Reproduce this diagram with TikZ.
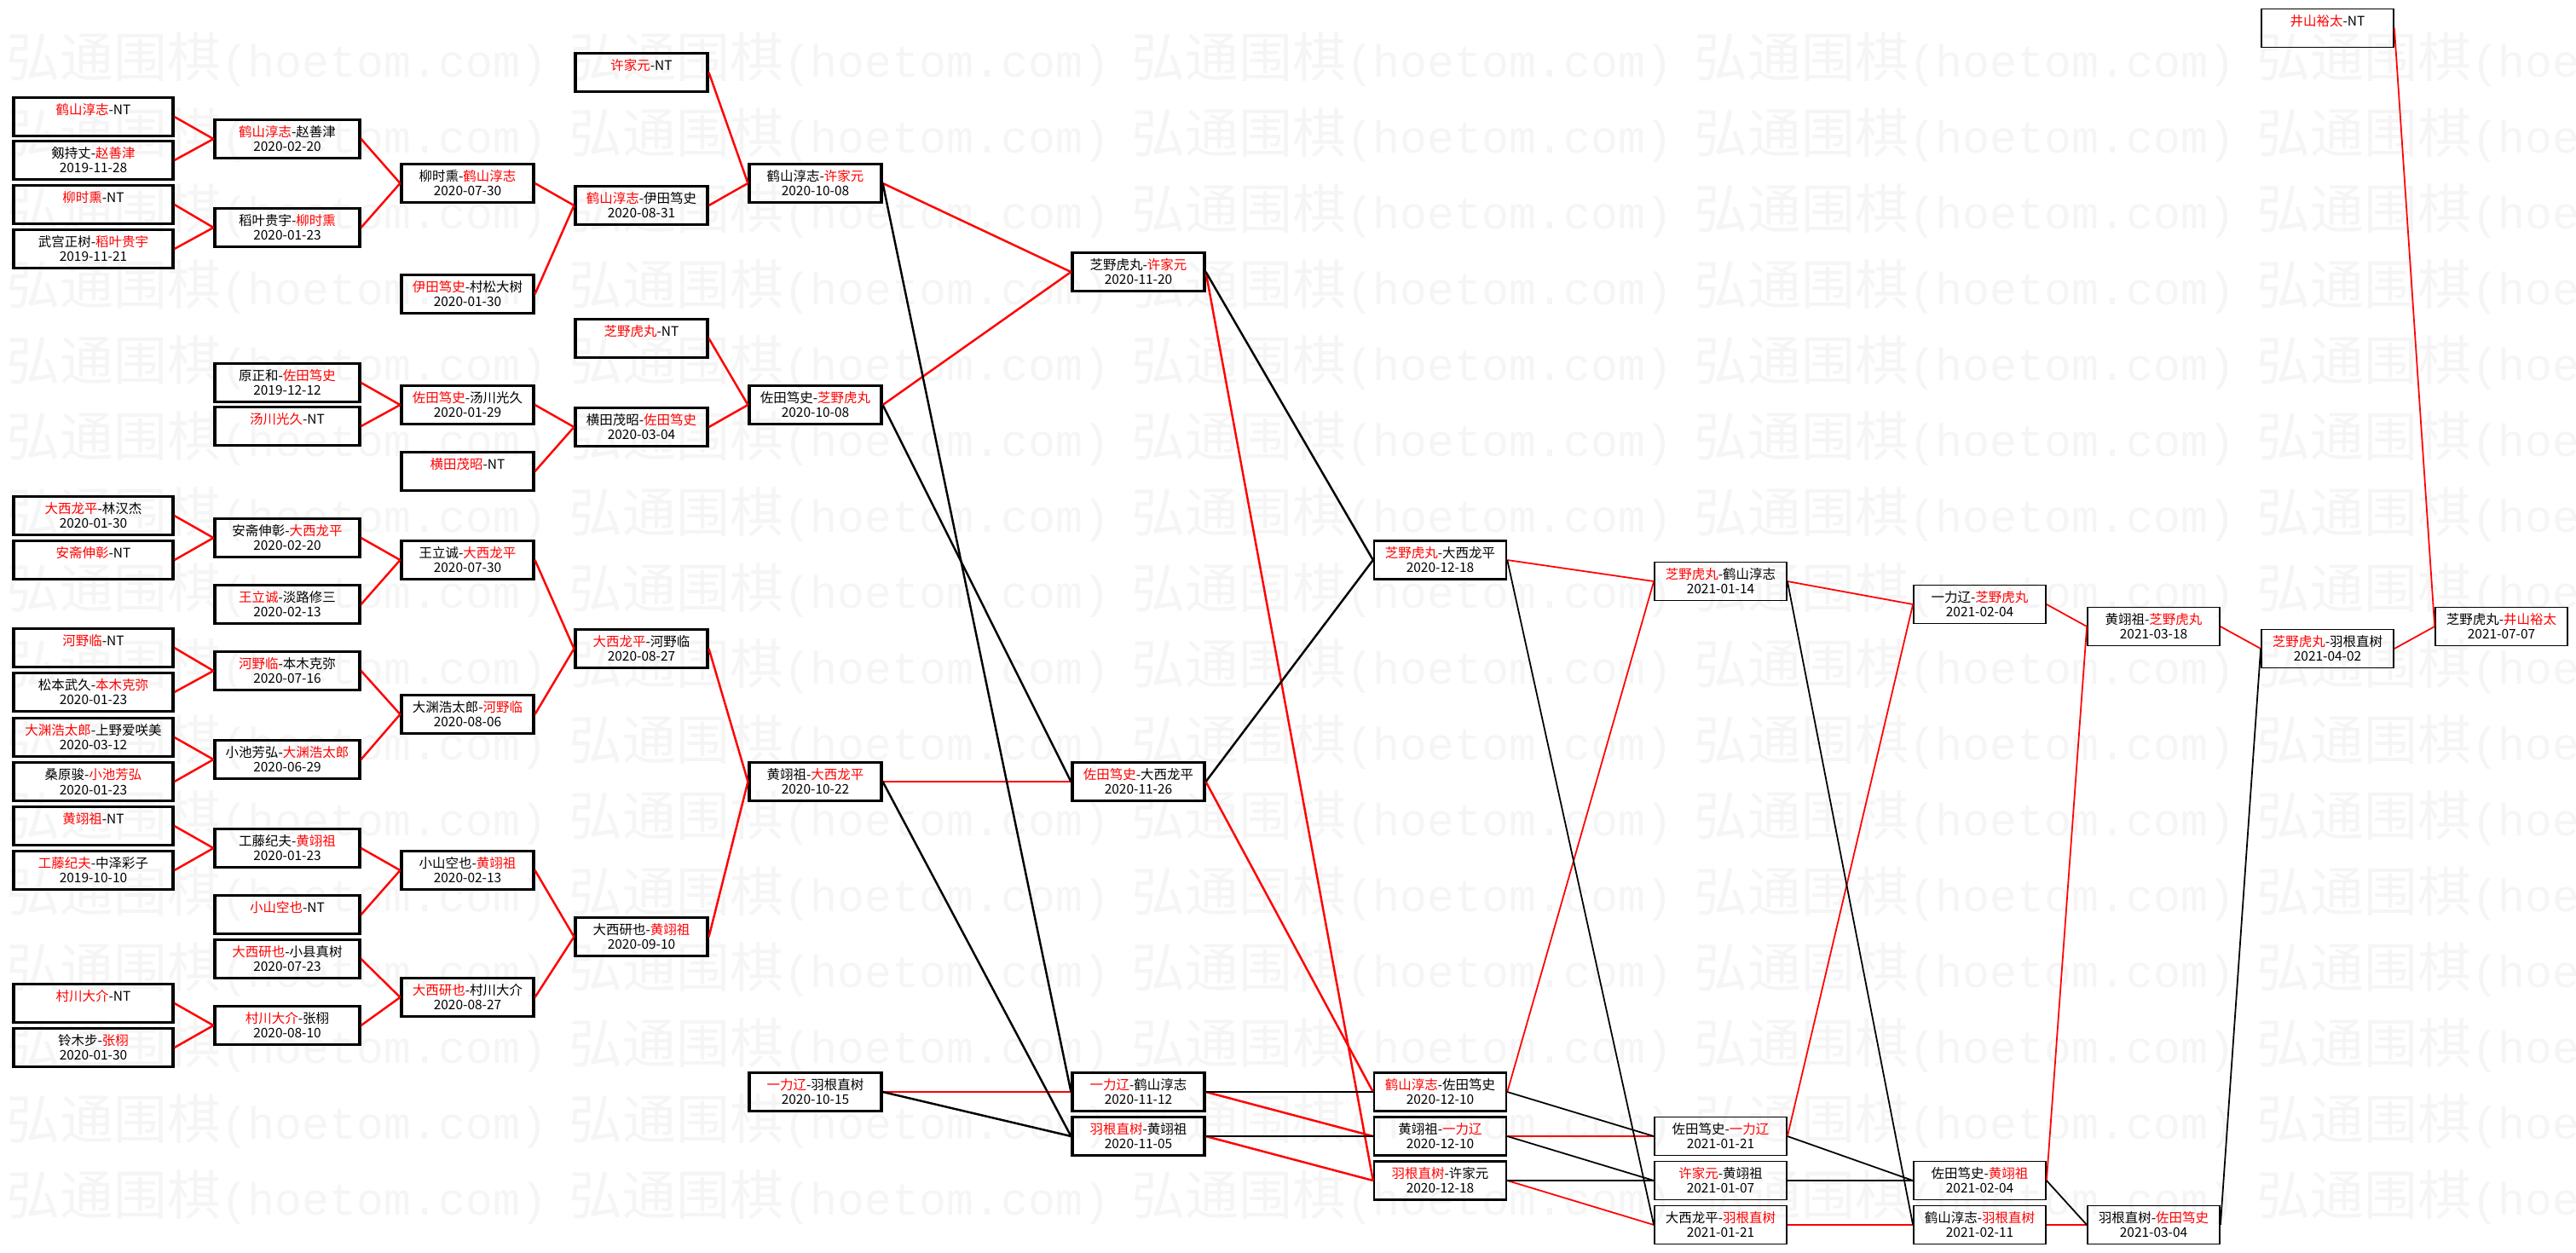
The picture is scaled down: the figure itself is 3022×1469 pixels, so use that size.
\documentclass[tikz,border=0pt]{standalone}
\usepackage{fontspec}
\setmainfont{Noto Sans CJK SC}
\newfontfamily\wzmono{Liberation Mono}
\newcommand{\gw}[1]{\textcolor{red}{#1}}

\begin{document}
\begin{tikzpicture}[x=0.2mm, y=-0.2mm,
	spiel/.style={draw, line width=1.8pt, inner sep=0pt, minimum width=31mm, minimum height=9mm,
		align=center, font=\fontsize{8.8}{9.7}\selectfont},
	spielm/.style={spiel, line width=1.4pt},
	spielr/.style={spiel, line width=1pt},
	sieg/.style={red, line width=1.4pt},
	nieder/.style={black, line width=1.4pt},
	wz/.style={anchor=west, inner sep=0pt, text=black!4}]
\useasboundingbox (0,0) rectangle (3022,1469);

	%% Wasserzeichen
\begin{scope}
	\clip (0,0) rectangle (3022,1469);
	\foreach \r in {0,...,15}
		\foreach \c in {0,...,4}
			\node[wz] (wz\r-\c) at ({7+660*\c},{70+89*\r})
				{\fontsize{35.8}{36}\selectfont 弘通围棋\wzmono\fontsize{30.3}{36}\selectfont(hoetom.com)};
\end{scope}

	%% Runde 1
	\node[spiel, minimum width=37.4mm] (a1) at (109.5,137) {\gw{鹤山淳志}-NT\\\phantom{0}};
	\node[spiel, minimum width=37.4mm] (a2) at (109.5,188) {剱持丈-\gw{赵善津}\\2019-11-28};
	\node[spiel, minimum width=37.4mm] (a3) at (109.5,240) {\gw{柳时熏}-NT\\\phantom{0}};
	\node[spiel, minimum width=37.4mm] (a4) at (109.5,292) {武宫正树-\gw{稻叶贵宇}\\2019-11-21};
	\node[spiel, minimum width=37.4mm] (a5) at (109.5,605) {\gw{大西龙平}-林汉杰\\2020-01-30};
	\node[spiel, minimum width=37.4mm] (a6) at (109.5,657) {\gw{安斋伸彰}-NT\\\phantom{0}};
	\node[spiel, minimum width=37.4mm] (a7) at (109.5,760) {\gw{河野临}-NT\\\phantom{0}};
	\node[spiel, minimum width=37.4mm] (a8) at (109.5,812) {松本武久-\gw{本木克弥}\\2020-01-23};
	\node[spiel, minimum width=37.4mm] (a9) at (109.5,865) {\gw{大渊浩太郎}-上野爱咲美\\2020-03-12};
	\node[spiel, minimum width=37.4mm] (a10) at (109.5,917) {桑原骏-\gw{小池芳弘}\\2020-01-23};
	\node[spiel, minimum width=37.4mm] (a11) at (109.5,969) {\gw{黄翊祖}-NT\\\phantom{0}};
	\node[spiel, minimum width=37.4mm] (a12) at (109.5,1021) {\gw{工藤纪夫}-中泽彩子\\2019-10-10};
	\node[spiel, minimum width=37.4mm] (a13) at (109.5,1177) {\gw{村川大介}-NT\\\phantom{0}};
	\node[spiel, minimum width=37.4mm] (a14) at (109.5,1229) {铃木步-\gw{张栩}\\2020-01-30};

	%% Runde 2
	\node[spiel, minimum width=34mm] (b1) at (337,163) {\gw{鹤山淳志}-赵善津\\2020-02-20};
	\node[spiel, minimum width=34mm] (b2) at (337,267) {稻叶贵宇-\gw{柳时熏}\\2020-01-23};
	\node[spiel, minimum width=34mm] (b3) at (337,449) {原正和-\gw{佐田笃史}\\2019-12-12};
	\node[spiel, minimum width=34mm] (b4) at (337,500) {\gw{汤川光久}-NT\\\phantom{0}};
	\node[spiel, minimum width=34mm] (b5) at (337,631) {安斋伸彰-\gw{大西龙平}\\2020-02-20};
	\node[spiel, minimum width=34mm] (b6) at (337,709) {\gw{王立诚}-淡路修三\\2020-02-13};
	\node[spiel, minimum width=34mm] (b7) at (337,787) {\gw{河野临}-本木克弥\\2020-07-16};
	\node[spiel, minimum width=34mm] (b8) at (337,891) {小池芳弘-\gw{大渊浩太郎}\\2020-06-29};
	\node[spiel, minimum width=34mm] (b9) at (337,995) {工藤纪夫-\gw{黄翊祖}\\2020-01-23};
	\node[spiel, minimum width=34mm] (b10) at (337,1073) {\gw{小山空也}-NT\\\phantom{0}};
	\node[spiel, minimum width=34mm] (b11) at (337,1125) {\gw{大西研也}-小县真树\\2020-07-23};
	\node[spiel, minimum width=34mm] (b12) at (337,1203) {\gw{村川大介}-张栩\\2020-08-10};

	%% Runde 3
	\node[spiel] (c1) at (548.5,215) {柳时熏-\gw{鹤山淳志}\\2020-07-30};
	\node[spiel] (c2) at (548.5,345) {\gw{伊田笃史}-村松大树\\2020-01-30};
	\node[spiel] (c3) at (548.5,475) {\gw{佐田笃史}-汤川光久\\2020-01-29};
	\node[spiel] (c4) at (548.5,553) {\gw{横田茂昭}-NT\\\phantom{0}};
	\node[spiel] (c5) at (548.5,657) {王立诚-\gw{大西龙平}\\2020-07-30};
	\node[spiel] (c6) at (548.5,838) {大渊浩太郎-\gw{河野临}\\2020-08-06};
	\node[spiel] (c7) at (548.5,1021) {小山空也-\gw{黄翊祖}\\2020-02-13};
	\node[spiel] (c8) at (548.5,1170) {\gw{大西研也}-村川大介\\2020-08-27};

	%% Runde 4
	\node[spiel] (d1) at (752.5,85) {\gw{许家元}-NT\\\phantom{0}};
	\node[spiel] (d2) at (752.5,241) {\gw{鹤山淳志}-伊田笃史\\2020-08-31};
	\node[spiel] (d3) at (752.5,397) {\gw{芝野虎丸}-NT\\\phantom{0}};
	\node[spiel] (d4) at (752.5,501) {横田茂昭-\gw{佐田笃史}\\2020-03-04};
	\node[spiel] (d5) at (752.5,761) {\gw{大西龙平}-河野临\\2020-08-27};
	\node[spiel] (d6) at (752.5,1099) {大西研也-\gw{黄翊祖}\\2020-09-10};

	%% Runde 5
	\node[spiel] (e1) at (956.5,215) {鹤山淳志-\gw{许家元}\\2020-10-08};
	\node[spiel] (e2) at (956.5,475) {佐田笃史-\gw{芝野虎丸}\\2020-10-08};
	\node[spiel] (e3) at (956.5,917) {黄翊祖-\gw{大西龙平}\\2020-10-22};
	\node[spiel] (e4) at (956.5,1281) {\gw{一力辽}-羽根直树\\2020-10-15};

	\node[spiel] (f1) at (1335.5,319) {芝野虎丸-\gw{许家元}\\2020-11-20};
	\node[spiel] (f2) at (1335.5,917) {\gw{佐田笃史}-大西龙平\\2020-11-26};
	\node[spiel] (f3) at (1335.5,1281) {\gw{一力辽}-鹤山淳志\\2020-11-12};
	\node[spiel] (f4) at (1335.5,1333) {\gw{羽根直树}-黄翊祖\\2020-11-05};

	%% Runde 6
	\node[spielm] (g1) at (1689.5,657) {\gw{芝野虎丸}-大西龙平\\2020-12-18};
	\node[spielm] (g2) at (1689.5,1281) {\gw{鹤山淳志}-佐田笃史\\2020-12-10};
	\node[spielm] (g3) at (1689.5,1333) {黄翊祖-\gw{一力辽}\\2020-12-10};
	\node[spielm] (g4) at (1689.5,1385) {\gw{羽根直树}-许家元\\2020-12-18};

	%% Runde 7 und weiter
	\node[spielr] (h1) at (2018.5,682) {\gw{芝野虎丸}-鹤山淳志\\2021-01-14};
	\node[spielr] (h2) at (2018.5,1333) {佐田笃史-\gw{一力辽}\\2021-01-21};
	\node[spielr] (h3) at (2018.5,1385) {\gw{许家元}-黄翊祖\\2021-01-07};
	\node[spielr] (h4) at (2018.5,1437) {大西龙平-\gw{羽根直树}\\2021-01-21};

	\node[spielr] (i1) at (2322.5,709) {一力辽-\gw{芝野虎丸}\\2021-02-04};
	\node[spielr] (i2) at (2322.5,1385) {佐田笃史-\gw{黄翊祖}\\2021-02-04};
	\node[spielr] (i3) at (2322.5,1437) {鹤山淳志-\gw{羽根直树}\\2021-02-11};

	\node[spielr] (j1) at (2526.5,735) {黄翊祖-\gw{芝野虎丸}\\2021-03-18};
	\node[spielr] (j2) at (2526.5,1437) {羽根直树-\gw{佐田笃史}\\2021-03-04};

	\node[spielr] (k1) at (2730.5,33) {\gw{井山裕太}-NT\\\phantom{0}};
	\node[spielr] (k2) at (2730.5,761) {\gw{芝野虎丸}-羽根直树\\2021-04-02};

	\node[spielr] (l1) at (2934.5,735) {芝野虎丸-\gw{井山裕太}\\2021-07-07};

	%%%%%%%%%%%%%%%%

	%% Verbindungen links
	\foreach \von/\nach in {a1/b1, a2/b1, a3/b2, a4/b2, a5/b5, a6/b5, a7/b7, a8/b7,
			a9/b8, a10/b8, a11/b9, a12/b9, a13/b12, a14/b12,
			b1/c1, b2/c1, b3/c3, b4/c3, b5/c5, b6/c5, b7/c6, b8/c6, b9/c7, b10/c7, b11/c8, b12/c8,
			c1/d2, c2/d2, c3/d4, c4/d4, c5/d5, c6/d5, c7/d6, c8/d6,
			d1/e1, d2/e1, d3/e2, d4/e2, d5/e3, d6/e3,
			e1/f1, e2/f1, e3/f2, e4/f3, f2/g2, f3/g3, f4/g4, f1/g4}
		\draw[sieg] (\von.east) -- (\nach.west);
	\foreach \von/\nach in {e1/f3, e2/f2, e3/f4, e4/f4, f1/g1, f2/g1, f3/g2, f4/g3}
		\draw[nieder] (\von.east) -- (\nach.west);

	%% Verbindungen rechts
\begin{scope}[line width=1pt]
	\foreach \von/\nach in {g1/h1, g2/h1, g3/h2, g4/h4, h1/i1, h2/i1, h4/i3,
			i1/j1, i2/j1, i3/j2, j1/k2, k1/l1, k2/l1}
		\draw[sieg, line width=1pt] (\von.east) -- (\nach.west);
	\foreach \von/\nach in {g2/h2, g3/h3, g4/h3, g1/h4, h1/i3, h2/i2, h3/i2, i2/j2, j2/k2}
		\draw[nieder, line width=1pt] (\von.east) -- (\nach.west);
\end{scope}

\end{tikzpicture}
\end{document}
